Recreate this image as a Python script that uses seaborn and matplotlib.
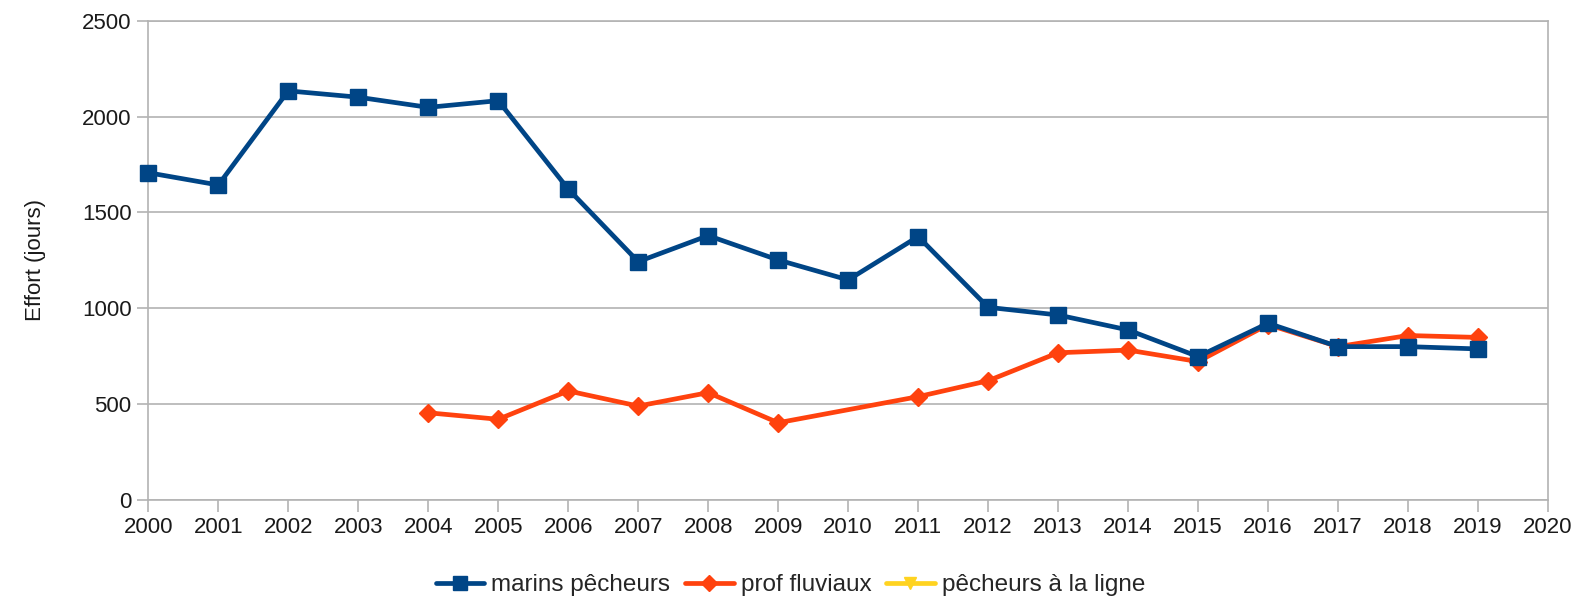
import numpy as np
import pandas as pd
import matplotlib
matplotlib.use("Agg")
import matplotlib.pyplot as plt
from matplotlib.lines import Line2D
import seaborn as sns

years = list(range(2000, 2020))
marins = [1707, 1643, 2134, 2101, 2048, 2083, 1622, 1243, 1379, 1252,
          1148, 1374, 1005, 965, 887, 748, 922, 800, 800, 788]
fluviaux = [np.nan, np.nan, np.nan, np.nan, 455, 421, 569, 490, 560, 403,
            np.nan, 539, 622, 768, 782, 722, 915, 800, 858, 848]
ligne = [np.nan] * 20
series_names = ["marins pêcheurs", "prof fluviaux", "pêcheurs à la ligne"]
colors = ["#004586", "#ff420e", "#ffd320"]
markers = ["s", "D", "v"]
xticks = list(range(2000, 2021))
yticks = [0, 500, 1000, 1500, 2000, 2500]

sns.set_theme(style="white")
plt.rcParams["font.family"] = ["Liberation Sans", "DejaVu Sans"]

fig = plt.figure(figsize=(15.81, 6.04), dpi=100)
ax = fig.add_axes([148.3 / 1581, 1 - 500 / 604, (1548 - 148.3) / 1581, (500 - 20.7) / 604])

msizes = [11.5, 9.5, 10]
for name, vals, c, m, ms in zip(series_names, [marins, fluviaux, ligne], colors, markers, msizes):
    df = pd.DataFrame({"year": years, "value": vals}).dropna()
    if len(df):
        sns.lineplot(data=df, x="year", y="value", ax=ax, color=c, marker=m,
                     markersize=ms, linewidth=3.4, markeredgecolor=c, markeredgewidth=1,
                     legend=False, zorder=3 if name == "marins pêcheurs" else 2)
for ln in ax.lines:
    ln.set_clip_on(False)

ax.set_xlim(2000, 2020)
ax.set_ylim(0, 2500)
ax.set_xticks(xticks)
ax.set_xticklabels([str(x) for x in xticks])
ax.set_yticks(yticks)
ax.set_yticklabels([str(y) for y in yticks])
ax.yaxis.grid(True, color="#b3b3b3", linewidth=1.2)
ax.xaxis.grid(False)
for s in ax.spines.values():
    s.set_color("#b3b3b3")
    s.set_linewidth(1.2)
ax.tick_params(axis="both", which="major", labelsize=16, colors="#b3b3b3",
               labelcolor="#1a1a1a", width=1.2)
ax.tick_params(axis="x", length=8.5, pad=4, direction="out", bottom=True)
ax.tick_params(axis="y", length=8, pad=4, direction="out", left=True)
ax.set_xlabel("")
ax.set_ylabel("Effort (jours)", fontsize=16, color="#1a1a1a", labelpad=26)

handles = [Line2D([0], [0], color=c, marker=m, markersize=ms * 0.85, linewidth=3.4,
                  markeredgecolor=c) for c, m, ms in zip(colors, markers, msizes)]
fig.legend(handles, series_names, loc="center", bbox_to_anchor=(0.5, 1 - 585 / 604),
           ncol=3, frameon=False, fontsize=17.5, handlelength=2.0, handletextpad=0.3,
           columnspacing=0.6)

fig.savefig("out.png", dpi=100, facecolor="white")
